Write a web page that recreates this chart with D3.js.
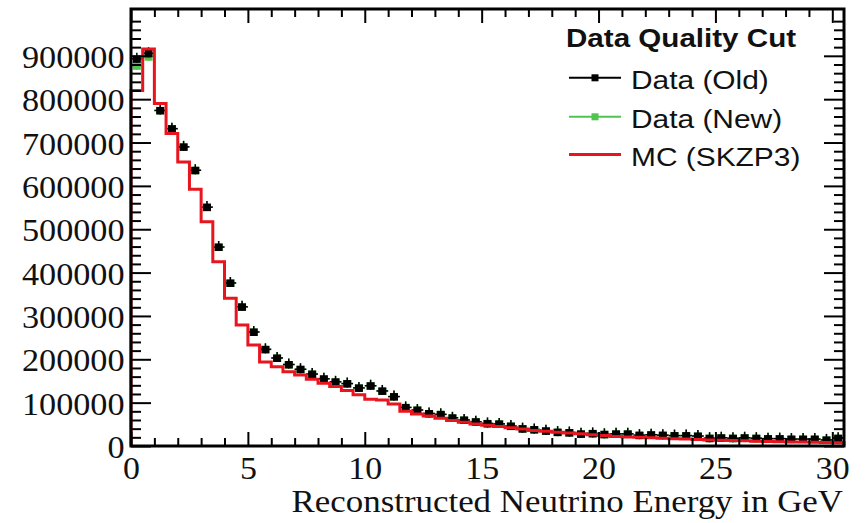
<!DOCTYPE html>
<html>
<head>
<meta charset="utf-8">
<script src="https://cdn.jsdelivr.net/npm/d3@7"></script>
<style>
  body { margin: 0; background: #fff; }
  svg { display: block; }
</style>
</head>
<body>
<svg id="chart" width="865" height="523"></svg>
<script>
// Histogram binning: 0.5 GeV bins from 0 to 30.5 GeV
const binWidth = 0.5;
const binLow = d3.range(0, 30.5, binWidth);

// Event counts per bin
const dataOld = [
  893000, 906000, 774000, 732000, 690000, 636000, 551000, 459000, 376000, 321000,
  263000, 223000, 203000, 188000, 177000, 166000, 155000, 148000, 144000, 134000,
  139000, 127000, 114000, 89000, 83000, 75000, 73000, 65000, 60000, 56000,
  52000, 51000, 46000, 40000, 38000, 35000, 32000, 31000, 28000, 29000,
  27000, 28000, 28000, 25000, 26000, 25000, 24000, 24000, 23000, 18000,
  19000, 18000, 19000, 18000, 17000, 17000, 16000, 16000, 16000, 14000,
  18000
];
const dataNew = [
  877000, 898000, 774000, 732000, 690000, 636000, 551000, 459000, 376000, 321000,
  263000, 223000, 203000, 188000, 177000, 166000, 155000, 148000, 144000, 134000,
  139000, 127000, 114000, 89000, 83000, 75000, 73000, 65000, 60000, 56000,
  52000, 51000, 46000, 40000, 38000, 35000, 32000, 31000, 28000, 29000,
  27000, 28000, 28000, 25000, 26000, 25000, 24000, 24000, 23000, 18000,
  19000, 18000, 19000, 18000, 17000, 17000, 16000, 16000, 16000, 14000,
  18000
];
const mcSKZP3 = [
  820000, 916000, 790000, 721000, 655000, 592000, 517000, 425000, 341000, 279000,
  233000, 194000, 183000, 171000, 164000, 154000, 145000, 137000, 128000, 118000,
  108000, 106000, 97000, 80000, 74000, 69000, 64000, 59000, 55000, 51000,
  48000, 45000, 42000, 39000, 36000, 34000, 32000, 30000, 28000, 26000,
  24000, 22000, 21000, 20000, 19000, 18000, 17000, 16000, 15000, 14000,
  13000, 12500, 12000, 11000, 10500, 10000, 9500, 9000, 8500, 8000,
  7500
];

// Axis ticks and texts
const yTickValues = [0, 100000, 200000, 300000, 400000, 500000, 600000, 700000, 800000, 900000];
const xTickValues = [0, 5, 10, 15, 20, 25, 30];
const xTitle = "Reconstructed Neutrino Energy in GeV";
const legendTitle = "Data Quality Cut";
const legendLabels = ["Data (Old)", "Data (New)", "MC (SKZP3)"];

const colors = { old: "#000000", neu: "#4fc44f", mc: "#e8141e" };

const svg = d3.select("#chart");
const frame = { left: 131, right: 844, top: 9, bottom: 446 };

const x = d3.scaleLinear().domain([0, 30.5]).range([frame.left, frame.right]);
const y = d3.scaleLinear().domain([0, 1008000]).range([frame.bottom, frame.top]);

const yMinor = d3.range(0, 1008000, 20000).filter(v => v % 100000 !== 0);
const xMinor = d3.range(0, 30.5, 1).filter(v => v % 5 !== 0);

const serif = "'Liberation Serif', 'Times New Roman', serif";
const sans = "'Liberation Sans', Arial, sans-serif";

// ---- data points (drawn first, MC outline on top)
function drawPoints(values, color) {
  const g = svg.append("g");
  const pts = binLow.map((lo, i) => ({ lo, v: values[i] }));
  g.selectAll("line.xerr").data(pts).join("line")
    .attr("x1", d => x(d.lo)).attr("x2", d => x(d.lo + binWidth))
    .attr("y1", d => y(d.v)).attr("y2", d => y(d.v))
    .attr("stroke", color).attr("stroke-width", 1.5);
  g.selectAll("line.yerr").data(pts).join("line")
    .attr("x1", d => x(d.lo + binWidth / 2)).attr("x2", d => x(d.lo + binWidth / 2))
    .attr("y1", d => y(d.v) - 6).attr("y2", d => y(d.v) + 4)
    .attr("stroke", color).attr("stroke-width", 1.5);
  g.selectAll("rect").data(pts).join("rect")
    .attr("x", d => x(d.lo + binWidth / 2) - 4)
    .attr("y", d => y(d.v) - 3.5)
    .attr("width", 8).attr("height", 7.5)
    .attr("fill", color);
}
drawPoints(dataNew, colors.neu);
drawPoints(dataOld, colors.old);

// ---- MC step histogram
const stepPts = [[x(0), y(0)]];
binLow.forEach((lo, i) => {
  stepPts.push([x(lo), y(mcSKZP3[i])]);
  stepPts.push([x(lo + binWidth), y(mcSKZP3[i])]);
});
stepPts.push([x(30.5), y(0)]);
svg.append("path")
  .attr("d", d3.line()(stepPts))
  .attr("fill", "none")
  .attr("stroke", colors.mc)
  .attr("stroke-width", 3)
  .attr("stroke-linejoin", "miter");

// ---- axes
function styleAxis(g) {
  g.select(".domain").remove();
  g.selectAll(".tick line").attr("stroke", "#000").attr("stroke-width", 2);
}

// left: major ticks with labels
const gLeft = svg.append("g").attr("transform", `translate(${frame.left},0)`)
  .call(d3.axisLeft(y).tickValues(yTickValues).tickSizeInner(-20).tickSizeOuter(0)
    .tickPadding(6).tickFormat(d3.format("d")));
styleAxis(gLeft);
gLeft.selectAll(".tick text")
  .attr("font-family", serif).attr("font-size", 32).attr("fill", "#111")
  .attr("transform", "scale(1.07,1)").attr("dy", "0.36em");
svg.append("g").attr("transform", `translate(${frame.left},0)`)
  .call(d3.axisLeft(y).tickValues(yMinor).tickSizeInner(-10).tickSizeOuter(0).tickFormat(""))
  .call(styleAxis);

// right
svg.append("g").attr("transform", `translate(${frame.right},0)`)
  .call(d3.axisLeft(y).tickValues(yTickValues).tickSizeInner(20).tickSizeOuter(0).tickFormat(""))
  .call(styleAxis);
svg.append("g").attr("transform", `translate(${frame.right},0)`)
  .call(d3.axisLeft(y).tickValues(yMinor).tickSizeInner(10).tickSizeOuter(0).tickFormat(""))
  .call(styleAxis);

// bottom: major ticks with labels
const gBottom = svg.append("g").attr("transform", `translate(0,${frame.bottom})`)
  .call(d3.axisBottom(x).tickValues(xTickValues).tickSizeInner(-14).tickSizeOuter(0).tickPadding(10));
styleAxis(gBottom);
gBottom.selectAll(".tick text")
  .attr("font-family", serif).attr("font-size", 32).attr("fill", "#111")
  .attr("transform", "scale(1.06,1)");
svg.append("g").attr("transform", `translate(0,${frame.bottom})`)
  .call(d3.axisBottom(x).tickValues(xMinor).tickSizeInner(-8).tickSizeOuter(0).tickFormat(""))
  .call(styleAxis);

// top
svg.append("g").attr("transform", `translate(0,${frame.top})`)
  .call(d3.axisBottom(x).tickValues(xTickValues).tickSizeInner(14).tickSizeOuter(0).tickFormat(""))
  .call(styleAxis);
svg.append("g").attr("transform", `translate(0,${frame.top})`)
  .call(d3.axisBottom(x).tickValues(xMinor).tickSizeInner(8).tickSizeOuter(0).tickFormat(""))
  .call(styleAxis);

// frame
svg.append("rect")
  .attr("x", frame.left).attr("y", frame.top)
  .attr("width", frame.right - frame.left).attr("height", frame.bottom - frame.top)
  .attr("fill", "none").attr("stroke", "#000").attr("stroke-width", 3);

// x-axis title, right aligned
svg.append("text")
  .attr("transform", `translate(843,512) scale(1.09,1)`)
  .attr("text-anchor", "end")
  .attr("font-family", serif).attr("font-size", 32).attr("fill", "#111")
  .text(xTitle);

// ---- legend
const legend = svg.append("g");
legend.append("text")
  .attr("transform", "translate(566,46.5) scale(1.16,1)")
  .attr("font-family", sans).attr("font-weight", "bold").attr("font-size", 25.5).attr("fill", "#111")
  .text(legendTitle);

const legendRows = [
  { label: legendLabels[0], color: colors.old, marker: true, base: 89.3 },
  { label: legendLabels[1], color: colors.neu, marker: true, base: 128.3 },
  { label: legendLabels[2], color: colors.mc, marker: false, base: 166 }
];
legendRows.forEach(r => {
  const ly = r.base - 11.5;
  legend.append("line")
    .attr("x1", 569).attr("x2", 621).attr("y1", ly).attr("y2", ly)
    .attr("stroke", r.color).attr("stroke-width", r.marker ? 2 : 3);
  if (r.marker) {
    legend.append("rect")
      .attr("x", 595 - 3.5).attr("y", ly - 3.5).attr("width", 7).attr("height", 7)
      .attr("fill", r.color);
  }
  legend.append("text")
    .attr("transform", `translate(631,${r.base}) scale(1.15,1)`)
    .attr("font-family", sans).attr("font-size", 26).attr("fill", "#111")
    .text(r.label);
});
</script>
</body>
</html>
